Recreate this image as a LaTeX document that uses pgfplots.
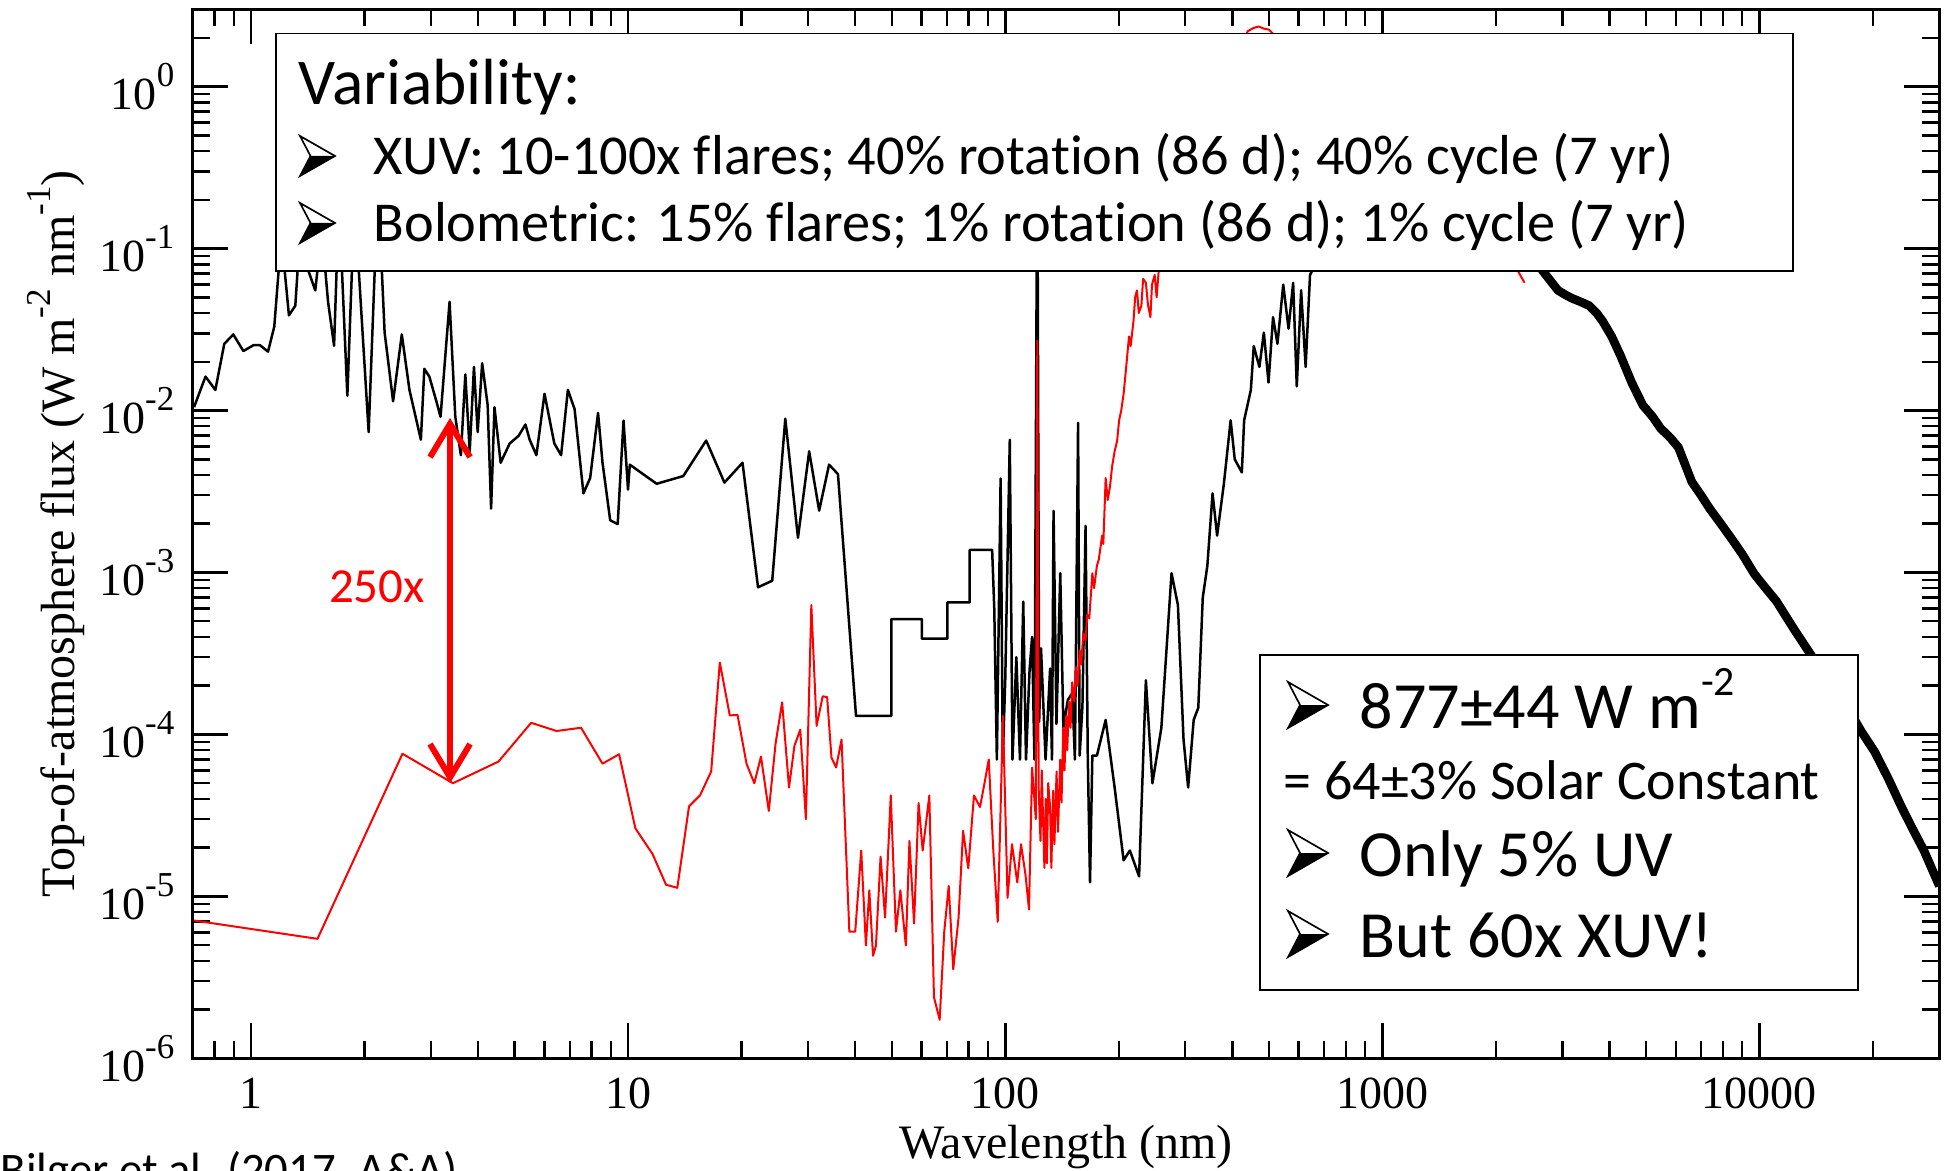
\documentclass[border=0pt]{standalone}
\usepackage{fontspec}
\setmainfont{Liberation Serif}
\newfontfamily\calibri{Carlito}[Ligatures={NoCommon}]
\usepackage{pgfplots}
\pgfplotsset{compat=1.18}
\usetikzlibrary{arrows.meta}
\newcommand{\tsup}[1]{\raisebox{0.5em}{\fontsize{10.5}{10}\selectfont #1}}
\newcommand{\lsup}[1]{\raisebox{0.5em}{\fontsize{10.5}{10}\selectfont #1}}
\newcommand{\bsup}[1]{\raisebox{0.5em}{\fontsize{12.5}{12}\selectfont #1}}
\newcommand{\bul}[4]{%
  \fill ({#1},{#2}) -- ({#1+#3},{#2-#4/2}) -- ({#1+0.3*#3},{#2-#4/2}) -- cycle;
  \draw[line width=0.5pt, line join=miter] ({#1},{#2-#4}) -- ({#1+#3},{#2-#4/2}) -- ({#1},{#2}) -- ({#1+0.3*#3},{#2-#4/2}) -- cycle;}
\begin{document}
\begin{tikzpicture}
\begin{axis}[
  at={(57.8pt,33.5pt)}, anchor=south west,
  scale only axis, width=524pt, height=314.7pt,
  xmode=log, ymode=log,
  xmin=0.7, xmax=30000, ymin=1e-6, ymax=3,
  xtick={1,10,100,1000,10000},
  xticklabels={1,10,100,1000,10000},
  ytick={1e-6,1e-5,1e-4,1e-3,1e-2,1e-1,1},
  yticklabels={10\tsup{-6},10\tsup{-5},10\tsup{-4},10\tsup{-3},10\tsup{-2},10\tsup{-1},10\tsup{0}},
  minor xtick={0.8,0.9,2,3,4,5,6,7,8,9,20,30,40,50,60,70,80,90,200,300,400,500,600,700,800,900,2000,3000,4000,5000,6000,7000,8000,9000,20000},
  minor ytick={2e-6,3e-6,4e-6,5e-6,6e-6,7e-6,8e-6,9e-6,2e-5,3e-5,4e-5,5e-5,6e-5,7e-5,8e-5,9e-5,2e-4,3e-4,4e-4,5e-4,6e-4,7e-4,8e-4,9e-4,2e-3,3e-3,4e-3,5e-3,6e-3,7e-3,8e-3,9e-3,0.02,0.03,0.04,0.05,0.06,0.07,0.08,0.09,0.2,0.3,0.4,0.5,0.6,0.7,0.8,0.9,2},
  tick align=inside,
  major tick length=10.5pt, minor tick length=5.1pt,
  tick style={black, line width=0.75pt},
  axis line style={line width=0.9pt},
  tick label style={font=\fontsize{13.8}{15}\selectfont},
  xticklabel style={anchor=base, yshift=-14.9pt, inner sep=0pt},
  yticklabel style={anchor=east, xshift=-5.3pt, inner sep=0pt},
  xlabel={Wavelength (nm)},
  ylabel={Top-of-atmosphere flux (W m\lsup{-2} nm\lsup{-1})},
  label style={font=\fontsize{14.4}{16}\selectfont},
  xlabel style={at={(axis description cs:0.5,-0.095)}, anchor=base},
  ylabel style={at={(axis description cs:-0.0783,0.5)}, anchor=center},
]
\addplot[black, line width=0.75pt, line join=round] coordinates {
(0.706,0.0105)(0.757,0.0162)(0.804,0.0134)(0.849,0.0258)(0.897,0.0295)(0.954,0.0233)(1.014,0.0253)(1.056,0.0253)(1.109,0.0231)(1.152,0.0329)(1.203,0.12)(1.26,0.0387)(1.31,0.0444)(1.355,0.15)(1.42,0.0725)(1.48,0.0552)(1.54,0.13)(1.60,0.0469)(1.66,0.0251)(1.71,0.2)(1.80,0.01235)(1.87,0.14)(1.92,0.09)(2.05,0.00736)(2.17,0.25)(2.26,0.0303)(2.38,0.0114)(2.51,0.0295)(2.63,0.0134)(2.82,0.0066)(2.88,0.0181)(2.97,0.0162)(3.10,0.0114)(3.18,0.00915)(3.36,0.0469)(3.48,0.00915)(3.60,0.0053)(3.70,0.0167)(3.80,0.0056)(3.90,0.0186)(3.99,0.00736)(4.10,0.0196)(4.24,0.0108)(4.33,0.00248)(4.42,0.0105)(4.59,0.00476)(4.85,0.00626)(5.12,0.00697)(5.34,0.0082)(5.48,0.0066)(5.71,0.0053)(6.00,0.01268)(6.37,0.00626)(6.64,0.0053)(6.92,0.0134)(7.21,0.0102)(7.61,0.00308)(7.93,0.00383)(8.32,0.00966)(8.55,0.00476)(8.96,0.0021)(9.38,0.00199)(9.72,0.00867)(9.99,0.00325)(10.1,0.00463)(11.9,0.00353)(14.0,0.00394)(16.1,0.00653)(18.0,0.00359)(20.1,0.00476)(22.1,0.00081)(24.1,0.00089)(26.1,0.0089)(28.2,0.00164)(30.2,0.0056)(32.1,0.00241)(34.1,0.00463)(36.0,0.00405)(40.2,1.3e-4)(49.9,1.3e-4)(49.9,5.16e-4)(60.1,5.16e-4)(60.1,3.9e-4)(70.2,3.9e-4)(70.2,6.53e-4)(80.5,6.53e-4)(80.5,1.38e-3)(92.3,1.38e-3)(93.5,6e-4)(95.0,7e-5)(97.2,3.8e-3)(98.5,7e-5)(100.0,2.2e-4)(102.8,6.6e-3)(104.5,7e-5)(107.0,3e-4)(109.4,7e-5)(111.6,6.6e-4)(113.5,7e-5)(116.0,2.5e-4)(117.8,4e-4)(119.5,7e-5)(121.6,0.5)(123.0,1.2e-4)(124.4,3.4e-4)(127.9,7e-5)(131.5,2.55e-4)(133.0,7e-5)(134.3,2.4e-3)(136.7,1.16e-4)(139.9,9.9e-4)(142.6,1.1e-4)(146.5,1.63e-4)(150.6,1.8e-4)(153,7e-5)(156.0,8.4e-3)(157.5,7.4e-5)(160.2,1.5e-4)(163.3,1.94e-3)(165.5,7.4e-5)(167.8,1.22e-5)(170.2,7.4e-5)(175,7.4e-5)(184.6,1.23e-4)(195,4.7e-5)(206,1.67e-5)(214,1.92e-5)(226.4,1.33e-5)(236,2.16e-4)(245.6,4.99e-5)(259.4,1.1e-4)(276,9.9e-4)(287,6.3e-4)(297,9.3e-5)(305.5,4.7e-5)(316,1.23e-4)(325,1.46e-4)(334,7.0e-4)(343.5,1.1e-3)(354.6,3.08e-3)(364.6,1.69e-3)(380,3.53e-3)(396,8.7e-3)(406,5.0e-3)(424,4.15e-3)(430,8.7e-3)(448,0.0134)(456,0.025)(472,0.0186)(485,0.0303)(499,0.0149)(513,0.0377)(527,0.0258)(546,0.0599)(564,0.032)(580,0.0615)(593,0.0141)(609,0.0552)(626,0.0186)(643,0.0687)(664,0.08)(700,0.1)(750,0.13)(800,0.2)(900,0.35)(1000,0.45)(1100,0.5)(1300,0.45)(1600,0.3)(2000,0.16)(2300,0.11)(2618,0.0766)
};
\addplot[black, line width=2.6pt, line join=round] coordinates {
(2618,0.0766)(2780,0.064)(2923,0.0552)(3050,0.052)(3172,0.0495)(3350,0.047)(3537,0.0444)(3700,0.04)(3837,0.0357)(4055,0.0287)(4279,0.0219)(4583,0.0149)(4908,0.01077)(5200,0.0092)(5470,0.00776)(5800,0.0068)(6100,0.00591)(6620,0.00362)(7000,0.003)(7380,0.00248)(7900,0.002)(8460,0.0016)(9000,0.0013)(9690,0.00098)(10300,8.2e-4)(11090,6.65e-4)(12400,4.4e-4)(13800,3.02e-4)(15400,2.1e-4)(17170,1.45e-4)(18600,1.05e-4)(20220,7.8e-5)(22000,5.3e-5)(23820,3.56e-5)(25500,2.6e-5)(27300,1.92e-5)(30000,1.16e-5)
};
\addplot[red, line width=0.6pt, line join=round] coordinates {
(0.706,7.1e-6)(1.50,5.47e-6)(2.52,7.6e-5)(3.43,5.0e-5)(4.53,6.8e-5)(5.53,1.18e-4)(6.46,1.05e-4)(7.50,1.1e-4)(8.55,6.6e-5)(9.46,7.55e-5)(10.45,2.63e-5)(11.6,1.83e-5)(12.6,1.18e-5)(13.5,1.13e-5)(14.5,3.6e-5)(15.5,4.2e-5)(16.6,5.9e-5)(17.5,2.78e-4)(18.6,1.31e-4)(19.5,1.32e-4)(20.6,6.6e-5)(21.6,5.0e-5)(22.5,7.3e-5)(23.6,3.37e-5)(24.6,8.8e-5)(25.6,1.58e-4)(26.7,4.7e-5)(27.6,8.5e-5)(28.6,1.07e-4)(29.6,3.0e-5)(30.6,6.3e-4)(31.6,1.13e-4)(32.8,1.72e-4)(33.7,1.7e-4)(34.6,7.2e-5)(35.6,6.25e-5)(36.8,9.3e-5)(38.6,6.05e-6)(40.0,6.05e-6)(41.5,1.92e-5)(42.7,4.97e-6)(43.6,1.09e-5)(44.6,4.3e-6)(45.4,4.97e-6)(46.7,1.76e-5)(48.0,7.4e-6)(49.7,4.2e-5)(51.3,6.05e-6)(52.7,1.09e-5)(54.5,4.97e-6)(55.7,2.2e-5)(57.3,6.8e-6)(58.9,3.77e-5)(60.4,1.92e-5)(62.9,4.2e-5)(64.7,2.39e-6)(67.0,1.73e-6)(68.9,6.05e-6)(70.8,1.16e-5)(72.8,3.55e-6)(75.2,7.4e-6)(77.3,2.54e-5)(79.8,1.49e-5)(82.6,4.2e-5)(85.7,3.56e-5)(88.1,5e-5)(90.4,7.0e-5)(92.9,1.97e-5)(95.5,6.97e-6)(98.6,1.3e-4)(101.4,9.8e-6)(104.2,2.1e-5)(107.6,1.22e-5)(110.1,2.1e-5)(113.1,1.37e-5)(115.6,8.3e-6)(117.8,6.25e-5)(120.5,3e-5)(121.6,0.027)(122.6,4.7e-5)(124,2.2e-5)(125,6e-5)(126.1,2.7e-5)(127,1.5e-5)(128,4e-5)(129,1.6e-5)(130,5e-5)(131.5,3.56e-5)(132.5,1.5e-5)(134,4.5e-5)(135,2.1e-5)(136.8,5.9e-5)(138,2.5e-5)(139.9,7e-5)(141,3.8e-5)(142.5,1.1e-4)(143.6,6e-5)(145,1.3e-4)(146,8e-5)(147.6,1.6e-4)(149,1.1e-4)(150.5,2.1e-4)(152.5,1.6e-4)(154,2.6e-4)(155.5,2e-4)(157.6,3.3e-4)(159,2.7e-4)(161,4.2e-4)(163.3,3.8e-4)(165,5.5e-4)(167,5.2e-4)(170.2,9.9e-4)(172,8e-4)(175,1.1e-3)(177,1.2e-3)(180.7,1.69e-3)(182,1.5e-3)(184.6,3.83e-3)(187,2.8e-3)(189.6,3.4e-3)(192,4.5e-3)(195,5.6e-3)(198,6.5e-3)(200.4,8.7e-3)(203,1.0e-2)(206,0.0127)(209,0.018)(212.9,0.0287)(215,0.025)(218.8,0.0357)(221,0.05)(223.5,0.0552)(226,0.04)(229.6,0.0444)(232,0.065)(236,0.0615)(239,0.045)(242.6,0.0377)(245,0.06)(249,0.0687)(252,0.05)(256,0.08)(280,0.2)(300,0.5)(330,0.9)(360,1.05)(400,1.7)(430,2.0)(440,2.2)(455,2.3)(470,2.35)(485,2.28)(500,2.25)(515,2.1)(550,2.0)(600,1.85)(700,1.5)(800,1.15)(900,0.95)(1000,0.75)(1200,0.5)(1500,0.3)(1800,0.17)(2000,0.12)(2200,0.085)(2290,0.0725)(2383,0.0615)
};
\draw[red, line width=1.8pt, {Straight Barb[length=10pt,width=12pt]}-{Straight Barb[length=10pt,width=12pt]}] (axis cs:3.37,9e-3) -- (axis cs:3.37,5e-5);
\end{axis}
\begin{scope}[x=0.3pt, y=-0.3pt, shift={(0pt,351pt)}]
\draw[line width=0.5pt, fill=white] (276,33.5) rectangle (1793,271);
\draw[line width=0.5pt, fill=white] (1260,655) rectangle (1858,990);
\node[anchor=base west, inner sep=0pt, font=\calibri\fontsize{19.6}{20}\selectfont] at (298,105) {Variability:};
\bul{300}{176}{35}{40}
\bul{300}{243}{35}{40}
\node[anchor=base west, inner sep=0pt, font=\calibri\fontsize{16.9}{17}\selectfont] at (373,175) {XUV: 10-100x flares; 40\% rotation (86 d); 40\% cycle (7 yr)};
\node[anchor=base west, inner sep=0pt, font=\calibri\fontsize{16.9}{17}\selectfont] at (373,242) {Bolometric: 15\% flares; 1\% rotation (86 d); 1\% cycle (7 yr)};
\bul{1288}{728}{40}{46}
\bul{1288}{876}{40}{46}
\bul{1288}{957}{40}{46}
\node[anchor=base west, inner sep=0pt, font=\calibri\fontsize{19.8}{20}\selectfont] at (1359,728) {877±44 W m\bsup{-2}};
\node[anchor=base west, inner sep=0pt, font=\calibri\fontsize{16.8}{17}\selectfont] at (1283,799) {= 64±3\% Solar Constant};
\node[anchor=base west, inner sep=0pt, font=\calibri\fontsize{19.8}{20}\selectfont] at (1359,876) {Only 5\% UV};
\node[anchor=base west, inner sep=0pt, font=\calibri\fontsize{19.8}{20}\selectfont] at (1359,957) {But 60x XUV!};
\node[anchor=center, inner sep=0pt, text=red, font=\calibri\fontsize{14.7}{15}\selectfont] at (377,587) {250x};
\end{scope}
\node[anchor=base west, inner sep=0pt, font=\calibri\fontsize{14}{14}\selectfont] at (0pt,-4.5pt) {Bilger et al. (2017, A\&A)};
\pgfresetboundingbox
\useasboundingbox (0,0) rectangle (585pt,351pt);
\end{tikzpicture}
\end{document}
